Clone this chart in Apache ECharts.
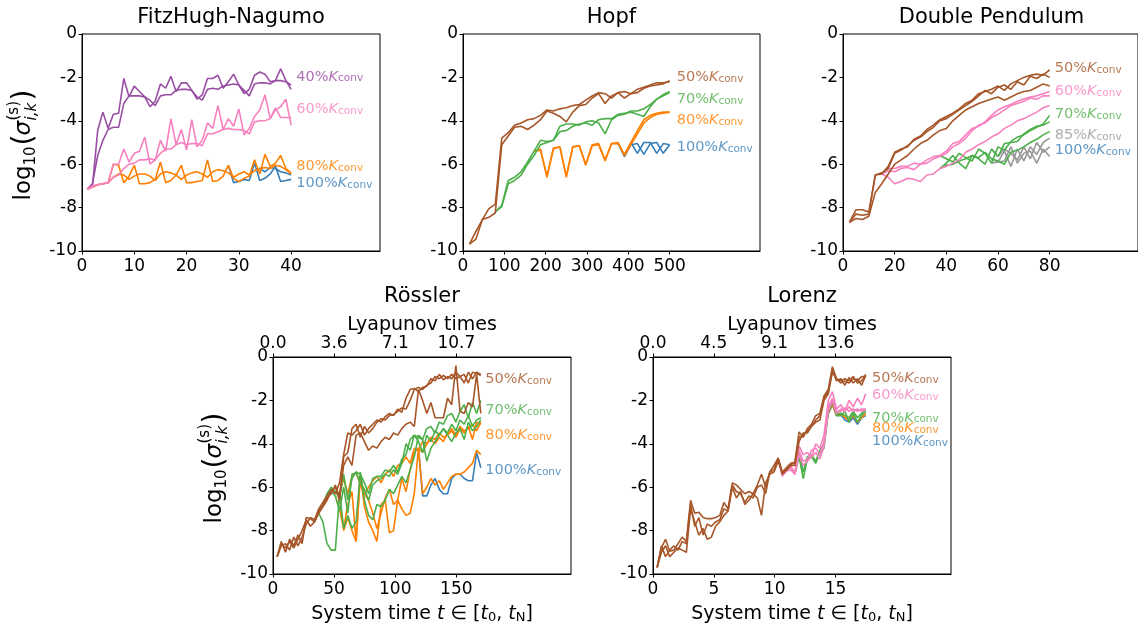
<!DOCTYPE html>
<html><head><meta charset="utf-8">
<script src="https://cdn.jsdelivr.net/npm/echarts@6.0.0/dist/echarts.min.js"></script>
<style>html,body{margin:0;padding:0;background:#fff}#c{width:1138px;height:626px}</style>
</head><body><div id="c"></div>
<script>
// ---------- colours ----------
const C = {brown:'#a65628', purple:'#984ea3', pink:'#f781bf', orange:'#ff7f00', green:'#4daf4a', blue:'#377eb8', grey:'#999999'};
const FONT = 'DejaVu Sans';

// ---------- FitzHugh-Nagumo ----------
const fhnT = [1,2,3,4,5,6,7,8,9,10,11,12,13,14,15,16,17,18,19,20,21,22,23,24,25,26,27,28,29,30,31,32,33,34,35,36,37,38,39,40];
const fhnPurple1 = [-7.15,-7.0,-4.45,-3.6,-4.35,-3.7,-3.65,-2.05,-2.9,-2.4,-2.65,-2.9,-3.35,-3.1,-2.3,-2.5,-1.95,-2.65,-2.25,-2.25,-2.6,-3.0,-2.8,-2.05,-2.05,-1.9,-2.5,-2.2,-1.85,-2.35,-2.75,-2.55,-1.9,-1.75,-1.85,-2.2,-2.15,-1.6,-2.15,-2.55];
const fhnPurple2 = [-7.15,-6.9,-5.6,-4.9,-4.4,-4.3,-4.3,-3.2,-2.85,-2.85,-2.85,-2.9,-3.05,-3.3,-2.85,-2.8,-2.8,-2.6,-2.55,-2.55,-2.6,-2.9,-3.05,-2.55,-2.5,-2.55,-2.4,-2.35,-2.3,-2.35,-2.6,-2.85,-2.3,-2.25,-2.25,-2.3,-2.15,-2.15,-2.2,-2.35];
const fhnPink1 = [-7.15,-7.05,-6.95,-6.9,-6.85,-6.0,-6.0,-5.3,-5.9,-5.5,-5.4,-4.75,-6.0,-5.8,-4.9,-5.4,-3.9,-5.1,-4.4,-5.35,-3.95,-5.2,-4.9,-4.1,-4.35,-3.3,-4.4,-3.9,-4.25,-3.45,-4.65,-4.35,-3.8,-3.5,-2.8,-3.9,-3.5,-3.35,-3.0,-4.2];
const fhnPink2 = [-7.15,-7.0,-6.95,-6.9,-6.85,-6.6,-6.5,-6.2,-6.0,-5.95,-5.8,-5.8,-5.75,-5.8,-5.5,-5.3,-5.3,-5.1,-5.0,-5.1,-5.05,-5.05,-5.15,-4.6,-4.6,-4.5,-4.4,-4.35,-4.4,-4.4,-4.45,-4.6,-4.05,-4.0,-4.0,-3.9,-3.4,-3.85,-3.85,-3.85];
const fhnOrange1 = [-7.15,-7.05,-6.95,-6.9,-6.85,-6.0,-6.05,-6.85,-6.55,-6.05,-6.9,-6.9,-6.85,-6.7,-5.9,-6.85,-6.75,-6.5,-6.05,-6.85,-6.85,-6.8,-6.75,-5.8,-6.8,-6.75,-6.55,-6.05,-6.65,-6.8,-6.65,-6.55,-5.8,-6.45,-5.55,-6.1,-5.95,-5.6,-6.2,-6.4];
const fhnOrange2 = [-7.15,-7.05,-6.95,-6.9,-6.85,-6.6,-6.45,-6.5,-6.7,-6.55,-6.45,-6.45,-6.55,-6.75,-6.45,-6.35,-6.4,-6.5,-6.7,-6.5,-6.4,-6.35,-6.45,-6.6,-6.35,-6.25,-6.3,-6.4,-6.6,-6.45,-6.35,-6.5,-6.3,-6.2,-6.15,-6.2,-6.05,-6.1,-6.25,-6.45];
const fhnBlue1 = [-6.05,-6.85,-6.8,-6.7,-6.75,-5.95,-6.75,-6.65,-6.45,-6.1,-6.8,-6.75,-6.7];      // from t=28
const fhnBlue2 = [-6.3,-6.2,-6.35,-6.15,-6.2,-6.35,-6.4,-6.5];                                   // from t=33
const fhnLabels = ['40%','60%','80%','100%'];
const fhnLabelY = [-1.97,-3.46,-6.08,-6.9];
const fhnLabelX = 41;

// ---------- Hopf ----------
const hopfT = [15.6,31.3,46.9,62.5,78.1,93.8,109.4,125,140.6,156.3,171.9,187.5,203.1,218.8,234.4,250,265.6,281.3,296.9,312.5,328.1,343.8,359.4,375,390.6,406.3,421.9,437.5,453.1,468.8,484.4,500];
const hopfBrown1 = [-9.68,-9.1,-8.55,-8.05,-7.85,-4.8,-4.55,-4.2,-4.1,-3.95,-3.9,-3.75,-3.5,-3.55,-3.45,-3.4,-3.3,-3.25,-3.05,-2.85,-2.7,-2.75,-2.95,-2.7,-2.65,-2.75,-2.55,-2.45,-2.35,-2.25,-2.25,-2.2];
const hopfBrown2 = [-9.68,-9.45,-8.55,-8.45,-8.25,-5.1,-4.7,-4.3,-4.25,-4.4,-4.2,-3.95,-3.55,-3.65,-3.8,-4.05,-3.6,-3.3,-3.25,-2.95,-2.75,-3.2,-2.85,-2.7,-2.95,-2.75,-2.7,-2.5,-2.4,-2.35,-2.3,-2.15];
const hopfGreen1 = [-8.2,-7.9,-6.75,-6.6,-6.35,-5.9,-5.4,-4.9,-4.95,-4.9,-4.25,-4.15,-4.15,-4.2,-4.05,-4.0,-4.1,-4.6,-3.95,-3.75,-3.7,-3.55,-3.55,-3.45,-3.25,-3.0,-2.8,-2.65];   // from index 4
const hopfGreen2 = [-8.2,-7.95,-6.9,-6.75,-6.5,-6.0,-5.6,-5.1,-5.0,-4.9,-4.5,-4.45,-4.25,-4.15,-4.1,-4.2,-3.95,-3.9,-3.9,-3.7,-3.65,-3.6,-3.7,-3.8,-3.35,-3.0,-2.85,-2.7];
const hopfOrange1 = [-5.4,-5.3,-6.6,-5.3,-5.2,-6.6,-5.2,-5.15,-6.05,-5.15,-5.1,-5.85,-5.05,-5.05,-5.55,-5.0,-4.45,-3.95,-3.75,-3.65,-3.6,-3.6];  // from index 10
const hopfOrange2 = [-5.4,-5.35,-6.55,-5.25,-5.2,-6.55,-5.2,-5.15,-6.0,-5.1,-5.05,-5.8,-5.05,-5.0,-5.6,-5.1,-4.6,-4.1,-3.85,-3.7,-3.65,-3.6];
const hopfBlue1 = [-5.05,-5.6,-5.0,-5.5,-5.0,-5.0,-5.5,-5.05,-5.1];   // from index 23
const hopfBlue2 = [-5.0,-5.65,-5.1,-5.05,-5.55,-5.05,-5.0,-5.5,-5.1];
const hopfLabels = ['50%','70%','80%','100%'];
const hopfLabelY = [-1.98,-3.0,-3.96,-5.24];
const hopfLabelX = 517;

// ---------- Double Pendulum ----------
const dpT = [2.5,5,7.5,10,12.5,15,17.5,20,22.5,25,27.5,30,32.5,35,37.5,40,42.5,45,47.5,50,52.5,55,57.5,60,62.5,65,67.5,70,72.5,75,77.5,80];
const dpBrown1 = [-8.68,-8.1,-8.1,-8.2,-6.5,-6.45,-6.1,-5.45,-5.3,-5.2,-4.85,-4.7,-4.4,-4.2,-3.95,-3.8,-3.65,-3.45,-3.2,-3.05,-2.75,-2.65,-2.55,-2.4,-2.6,-2.3,-2.15,-2.0,-1.9,-1.85,-1.9,-1.65];
const dpBrown2 = [-8.68,-8.3,-8.35,-8.3,-6.5,-6.4,-6.2,-5.5,-5.35,-5.15,-4.9,-4.75,-4.5,-4.3,-4.0,-3.9,-3.7,-3.5,-3.3,-3.1,-2.85,-2.6,-2.75,-2.45,-2.35,-2.55,-2.2,-2.35,-1.95,-2.05,-1.85,-2.0];
const dpBrown3 = [-8.68,-8.5,-8.55,-8.4,-7.3,-6.9,-6.45,-6.0,-5.8,-5.6,-5.3,-5.05,-4.9,-4.65,-4.45,-4.35,-4.0,-3.75,-3.5,-3.35,-3.2,-3.1,-3.0,-2.9,-3.05,-2.9,-2.75,-2.65,-2.6,-2.45,-2.3,-2.4];
const dpPink1 = [-6.45,-6.2,-6.2,-6.1,-6.1,-5.95,-6.0,-5.8,-5.65,-5.6,-5.4,-5.05,-4.95,-4.65,-4.35,-4.25,-4.05,-3.75,-3.5,-3.35,-3.25,-3.1,-3.0,-2.9,-2.85,-2.75,-2.65];   // from index 5
const dpPink2 = [-6.45,-6.3,-6.35,-6.2,-6.15,-6.25,-6.0,-5.95,-5.75,-5.65,-5.5,-5.2,-5.05,-4.8,-4.45,-4.2,-4.1,-3.85,-3.7,-3.5,-3.3,-3.2,-3.1,-2.95,-3.0,-2.85,-2.85];
const dpPink3 = [-6.45,-6.6,-6.9,-6.8,-6.65,-6.7,-6.8,-6.5,-6.45,-6.2,-6.1,-5.95,-5.8,-5.45,-5.3,-5.1,-4.95,-4.75,-4.6,-4.35,-4.2,-4.0,-3.9,-3.75,-3.6,-3.4,-3.3];
const dpGreen1 = [-5.6,-5.75,-5.9,-5.5,-5.7,-5.85,-5.3,-5.5,-5.95,-5.2,-5.35,-4.95,-4.75,-4.65,-4.45,-4.3,-4.15,-3.75];   // from index 14
const dpGreen2 = [-6.2,-5.95,-5.6,-5.95,-6.2,-5.6,-5.75,-6.0,-5.3,-5.65,-5.05,-5.0,-4.95,-4.6,-4.4,-4.25,-4.2,-4.05];
const dpGreen3 = [-6.2,-6.05,-6.0,-5.85,-5.75,-5.6,-5.7,-5.45,-5.75,-5.85,-6.0,-5.45,-5.35,-5.2,-5.0,-4.85,-4.65,-4.5];
const dpGrey1 = [-5.95,-5.9,-5.4,-6.1,-5.3,-5.85,-5.2,-5.55,-5.0,-4.8];   // from index 22
const dpGrey2 = [-5.3,-5.65,-5.3,-5.5,-5.8,-5.2,-5.75,-5.0,-5.45,-5.2];
const dpGrey3 = [-5.75,-5.9,-5.85,-5.2,-5.95,-5.5,-5.4,-5.95,-5.3,-5.65];
const dpLabels = ['50%','60%','70%','85%','100%'];
const dpLabelY = [-1.6,-2.63,-3.7,-4.65,-5.35];
const dpLabelX = 82;

// ---------- Rössler ----------
const rosT = [3.4,6.8,10.2,13.6,17,20.4,23.8,27.2,30.6,34,37.4,40.8,44.2,47.6,51,54.4,57.8,61.2,64.6,68,71.4,74.8,78.2,81.6,85,88.4,91.8,95.2,98.6,102,105.4,108.8,112.2,115.6,119,122.4,125.8,129.2,132.6,136,139.4,142.8,146.2,149.6,153,156.4,159.8,163.2,166.6,170];
const rosBrown1 = [-9.2,-8.5,-9.0,-8.4,-8.7,-8.2,-8.6,-7.4,-7.45,-7.6,-7.1,-6.8,-6.5,-6.3,-5.9,-6.6,-4.6,-4.4,-3.3,-3.1,-3.7,-3.2,-3.5,-3.3,-3.0,-2.85,-2.9,-2.7,-2.65,-2.5,-2.35,-2.4,-2.0,-1.5,-1.4,-1.5,-1.3,-1.2,-0.9,-1.0,-0.85,-1.0,-0.8,-1.0,-0.9,-0.8,-1.2,-0.7,-0.75,-0.85];
const rosBrown2 = [-9.2,-8.7,-8.6,-8.9,-8.3,-8.7,-8.3,-7.7,-7.4,-7.5,-7.0,-6.7,-6.4,-6.1,-6.3,-5.8,-4.5,-3.5,-3.6,-3.4,-3.1,-3.6,-3.3,-3.1,-2.9,-3.0,-2.75,-2.6,-2.7,-2.4,-2.55,-1.9,-1.5,-1.45,-1.6,-1.4,-1.35,-1.0,-1.1,-0.8,-1.05,-0.9,-1.0,-0.7,-0.9,-1.2,-0.7,-1.0,-0.7,-0.8];
const rosBrown3 = [-9.2,-8.6,-8.8,-8.5,-8.8,-8.4,-8.0,-7.5,-7.8,-7.6,-7.2,-6.9,-6.6,-6.2,-6.0,-6.4,-5.0,-4.6,-5.0,-3.6,-3.5,-3.9,-4.3,-4.1,-4.2,-3.9,-3.7,-3.8,-3.5,-3.6,-3.3,-3.1,-3.0,-3.2,-1.5,-2.0,-2.6,-2.1,-2.8,-2.8,-2.8,-1.9,-2.2,-0.4,-2.5,-2.6,-2.1,-2.3,-0.8,-2.6];
const rosGreen1 = [-6.8,-6.3,-6.0,-6.2,-6.5,-5.4,-6.6,-5.6,-5.3,-5.4,-5.8,-6.3,-5.6,-5.5,-5.5,-5.2,-5.3,-5.0,-5.3,-4.7,-4.5,-3.8,-3.6,-3.7,-3.8,-3.3,-3.2,-3.5,-3.0,-3.1,-2.7,-2.6,-3.0,-2.5,-2.2,-2.8,-2.1,-2.6,-2.0];   // from index 11
const rosGreen2 = [-6.8,-6.4,-6.2,-6.4,-7.1,-6.0,-7.2,-5.4,-5.35,-5.8,-6.1,-6.6,-5.9,-5.7,-5.6,-5.4,-5.5,-5.2,-5.4,-4.9,-4.0,-4.3,-3.6,-3.9,-4.4,-3.6,-3.9,-3.4,-3.6,-3.3,-3.5,-3.1,-3.4,-2.9,-3.1,-2.7,-3.2,-2.9,-2.8];
const rosGreen3 = [-7.2,-7.6,-8.6,-8.9,-8.9,-6.3,-7.9,-7.3,-7.9,-7.6,-5.3,-6.6,-7.3,-7.5,-6.8,-6.9,-6.6,-6.1,-6.3,-5.9,-5.5,-5.8,-5.2,-4.6,-3.6,-3.8,-4.8,-4.2,-3.9,-3.6,-3.3,-3.6,-3.9,-3.5,-3.3,-3.8,-3.0,-3.4,-3.2,-2.9];   // from index 10
const rosOrange1 = [-6.2,-6.3,-5.6,-6.3,-5.5,-5.3,-5.9,-6.3,-6.0,-5.7,-5.5,-5.8,-5.4,-5.2,-5.5,-5.0,-4.9,-4.6,-4.9,-4.2,-4.3,-3.9,-4.0,-3.7,-3.8,-3.5,-3.7,-3.6,-3.4,-3.7,-3.3,-3.5,-3.2,-3.8,-3.0,-3.1];   // from index 14
const rosOrange2 = [-6.4,-7.0,-7.9,-6.8,-6.2,-8.5,-5.5,-6.3,-6.6,-7.2,-7.9,-7.2,-6.5,-6.1,-6.8,-6.6,-5.6,-6.2,-5.2,-4.4,-4.2,-4.4,-4.0,-3.8,-4.0,-3.7,-3.9,-3.5,-3.3,-3.6,-3.2,-3.4,-3.3,-3.1,-3.4,-3.0];   // from index 14
const rosOrange3 = [-6.3,-8.0,-7.4,-8.0,-8.5,-5.4,-6.9,-7.6,-8.0,-8.5,-6.8,-6.6,-8.1,-8.0,-6.6,-7.0,-7.3,-7.2,-6.3,-4.2,-6.3,-6.0,-5.6,-5.9,-5.7,-6.1,-5.8,-5.5,-5.4,-5.4,-5.3,-5.1,-4.9,-4.3,-4.5];   // from index 15
const rosBlue = [-4.2,-6.4,-6.4,-5.9,-5.6,-6.1,-6.3,-6.3,-5.6,-5.4,-5.4,-5.6,-5.7,-5.7,-4.4,-5.1];   // from index 34
const rosLabels = ['50%','70%','80%','100%'];
const rosLabelY = [-1.01,-2.44,-3.6,-5.2];
const rosLabelX = 173.6;
const rosTopTicks = [0,50,100,150];
const rosTopLabels = ['0.0','3.6','7.1','10.7'];

// ---------- Lorenz ----------
const lorT = [0.34,0.69,1.03,1.37,1.72,2.06,2.40,2.74,3.09,3.43,3.77,4.12,4.46,4.80,5.15,5.49,5.83,6.17,6.52,6.86,7.20,7.55,7.89,8.23,8.58,8.92,9.26,9.60,9.95,10.29,10.63,10.98,11.32,11.66,12.01,12.35,12.69,13.03,13.38,13.72,14.06,14.41,14.75,15.09,15.44,15.78,16.12,16.46,16.81,17.15,17.49];
const lorBrown1 = [-9.7,-8.8,-8.4,-8.95,-8.9,-8.6,-8.3,-8.5,-6.6,-7.2,-7.15,-7.4,-7.45,-7.45,-7.4,-7.3,-6.7,-7.0,-5.8,-5.9,-6.1,-6.3,-6.2,-6.3,-5.9,-5.4,-6.0,-5.3,-5.0,-4.65,-5.3,-5.1,-4.9,-4.85,-3.45,-3.7,-3.3,-3.1,-2.7,-2.6,-1.8,-1.5,-0.45,-1.0,-1.1,-1.0,-1.1,-0.9,-1.2,-1.1,-0.8];
const lorBrown2 = [-9.7,-8.7,-9.2,-8.9,-8.7,-8.9,-8.5,-8.6,-6.8,-7.8,-7.4,-8.2,-7.7,-7.8,-7.6,-7.5,-7.0,-7.1,-5.9,-6.2,-6.3,-6.7,-6.4,-6.5,-6.0,-5.9,-6.3,-5.3,-5.2,-4.7,-5.4,-5.2,-4.95,-4.9,-3.7,-3.6,-3.4,-3.2,-2.9,-2.7,-1.9,-1.6,-0.6,-1.1,-1.0,-1.3,-0.95,-1.2,-1.0,-1.3,-0.85];
const lorBrown3 = [-9.7,-9.0,-8.7,-9.2,-9.0,-8.8,-8.9,-9.0,-7.0,-7.6,-8.2,-7.9,-8.4,-8.3,-7.8,-7.6,-7.3,-7.1,-6.0,-6.5,-6.2,-6.8,-6.6,-6.3,-6.5,-7.3,-5.8,-5.4,-5.3,-4.8,-5.3,-5.2,-5.0,-5.0,-3.9,-3.5,-3.5,-3.2,-3.0,-2.9,-2.0,-1.7,-0.7,-1.0,-1.2,-1.1,-1.2,-1.0,-1.1,-0.9,-0.9];
const lorPink1 = [-4.7,-5.35,-5.15,-5.0,-5.4,-4.1,-4.5,-4.4,-4.6,-4.0,-4.2,-3.6,-2.0,-1.6,-2.4,-2.2,-2.5,-2.0,-2.3,-1.9,-2.2,-1.7];   // from index 29
const lorPink2 = [-4.7,-5.4,-5.2,-5.1,-5.3,-4.3,-4.8,-4.7,-4.3,-4.2,-4.5,-3.9,-2.3,-1.9,-2.5,-2.5,-2.35,-2.5,-2.4,-2.5,-2.4,-2.4];
const lorPink3 = [-4.7,-5.5,-5.25,-5.2,-5.4,-4.5,-5.0,-4.8,-4.6,-4.4,-4.7,-4.1,-2.5,-2.0,-2.6,-2.4,-2.5,-2.3,-2.5,-2.4,-2.5,-2.45];
const lorGreen1 = [-5.4,-4.6,-5.6,-4.7,-4.6,-4.9,-4.4,-4.2,-2.5,-2.0,-2.7,-2.7,-2.5,-3.0,-2.6,-3.0,-2.7,-2.5];   // from index 33
const lorGreen2 = [-5.4,-4.4,-5.3,-4.6,-4.5,-4.8,-4.3,-4.0,-2.6,-2.1,-2.6,-2.6,-2.7,-2.8,-2.5,-2.8,-2.6,-2.4];
const lorOrange = [-2.6,-2.2,-2.7,-2.6,-2.8,-2.9,-2.7,-3.0,-2.8,-2.6];   // from index 41
const lorBlue = [-2.6,-2.2,-2.7,-2.65,-2.9,-3.0,-2.8,-3.1,-2.8,-2.7];
const lorLabels = ['50%','60%','70%','80%','100%'];
const lorLabelY = [-1.0,-1.75,-2.8,-3.3,-3.9];
const lorLabelX = 18.0;
const lorTopTicks = [0,5,10,15];
const lorTopLabels = ['0.0','4.5','9.1','13.6'];

// ---------- layout ----------
const grids = [
  {left:82, top:34, width:298, height:217},
  {left:463, top:34, width:297, height:217},
  {left:843, top:34, width:297, height:217},
  {left:273, top:357, width:298, height:217},
  {left:653, top:357, width:298, height:217}
];
const xMax = [57, 718.6, 114.2, 243.8, 24.5];
const xTicks = [[0,10,20,30,40],[0,100,200,300,400,500],[0,20,40,60,80],[0,50,100,150],[0,5,10,15]];

const axisLineStyle = {color:'#000', width:1};
const tickFont = {fontSize:17, color:'#000', fontFamily:FONT};

const xAxes = grids.map((g,i)=>({
  gridIndex:i, type:'value', min:0, max:xMax[i],
  axisLine:{show:true, onZero:false, lineStyle:axisLineStyle},
  axisTick:{show:true, length:3.5, customValues:xTicks[i], lineStyle:axisLineStyle},
  axisLabel:Object.assign({customValues:xTicks[i], margin:7}, tickFont),
  splitLine:{show:false},
  name: i>=3 ? '{a|System time }{i|t}{a| ∈ [}{i|t}{s|0}{a|, }{i|t}{s|N}{a|]}' : '',
  nameLocation:'middle', nameGap:31,
  nameTextStyle:{color:'#000', fontFamily:FONT, rich:{
    a:{fontSize:19, fontFamily:FONT, color:'#000'},
    i:{fontSize:19, fontFamily:FONT, fontStyle:'italic', color:'#000'},
    s:{fontSize:13, fontFamily:FONT, color:'#000', verticalAlign:'bottom', lineHeight:10}
  }}
}));
function topAxis(gi, ticks, labels) {
  return {gridIndex:gi, type:'value', position:'top', min:0, max:xMax[gi],
    axisLine:{show:true, onZero:false, lineStyle:axisLineStyle},
    axisTick:{show:true, length:3.5, customValues:ticks, lineStyle:axisLineStyle},
    axisLabel:Object.assign({customValues:ticks, margin:5, formatter:v=>labels[ticks.indexOf(v)]}, tickFont),
    splitLine:{show:false},
    name:'Lyapunov times', nameLocation:'middle', nameGap:22,
    nameTextStyle:{fontSize:19, fontFamily:FONT, color:'#000'}};
}
xAxes.push(topAxis(3, rosTopTicks, rosTopLabels));
xAxes.push(topAxis(4, lorTopTicks, lorTopLabels));

const yAxes = grids.map((g,i)=>({
  gridIndex:i, type:'value', min:-10, max:0, interval:2,
  axisLine:{show:true, onZero:false, lineStyle:axisLineStyle},
  axisTick:{show:true, length:3.5, lineStyle:axisLineStyle},
  axisLabel:Object.assign({margin:5}, tickFont),
  splitLine:{show:false}
}));

// ---------- series ----------
const series = [];
function line(gi, t, vals, start, color) {
  series.push({type:'line', xAxisIndex:gi, yAxisIndex:gi,
    data: vals.map((v,i)=>[t[start+i], v]),
    showSymbol:false, symbol:'none', silent:true, animation:false,
    lineStyle:{color, width:1.6}, itemStyle:{color}});
}
function labels(gi, x, ys, texts, colors) {
  series.push({type:'scatter', xAxisIndex:gi, yAxisIndex:gi, symbolSize:1, silent:true, animation:false, z:5,
    itemStyle:{color:'rgba(0,0,0,0)'},
    data: ys.map((y,i)=>({value:[x,y], label:{show:true, position:'inside', align:'left', verticalAlign:'middle',
      color:colors[i], formatter:'{n|'+texts[i]+'}{k|K}{s|conv}',
      rich:{
        n:{fontSize:14.5, fontFamily:FONT, color:colors[i]},
        k:{fontSize:14.5, fontFamily:FONT, fontStyle:'italic', color:colors[i]},
        s:{fontSize:10.5, fontFamily:FONT, color:colors[i], verticalAlign:'bottom', lineHeight:8}
      }}}))});
}

// FHN
line(0, fhnT, fhnBlue1, 27, C.blue);
line(0, fhnT, fhnBlue2, 32, C.blue);
line(0, fhnT, fhnOrange1, 0, C.orange);
line(0, fhnT, fhnOrange2, 0, C.orange);
line(0, fhnT, fhnPurple1, 0, C.purple);
line(0, fhnT, fhnPurple2, 0, C.purple);
line(0, fhnT, fhnPink1, 0, C.pink);
line(0, fhnT, fhnPink2, 0, C.pink);
labels(0, fhnLabelX, fhnLabelY, fhnLabels, [C.purple, C.pink, C.orange, C.blue]);

// Hopf
line(1, hopfT, hopfBlue1, 23, C.blue);
line(1, hopfT, hopfBlue2, 23, C.blue);
line(1, hopfT, hopfOrange1, 10, C.orange);
line(1, hopfT, hopfOrange2, 10, C.orange);
line(1, hopfT, hopfGreen1, 4, C.green);
line(1, hopfT, hopfGreen2, 4, C.green);
line(1, hopfT, hopfBrown1, 0, C.brown);
line(1, hopfT, hopfBrown2, 0, C.brown);
labels(1, hopfLabelX, hopfLabelY, hopfLabels, [C.brown, C.green, C.orange, C.blue]);

// Double pendulum
line(2, dpT, dpGrey1, 22, C.grey);
line(2, dpT, dpGrey2, 22, C.grey);
line(2, dpT, dpGrey3, 22, C.grey);
line(2, dpT, dpGreen1, 14, C.green);
line(2, dpT, dpGreen2, 14, C.green);
line(2, dpT, dpGreen3, 14, C.green);
line(2, dpT, dpPink1, 5, C.pink);
line(2, dpT, dpPink2, 5, C.pink);
line(2, dpT, dpPink3, 5, C.pink);
line(2, dpT, dpBrown1, 0, C.brown);
line(2, dpT, dpBrown2, 0, C.brown);
line(2, dpT, dpBrown3, 0, C.brown);
labels(2, dpLabelX, dpLabelY, dpLabels, [C.brown, C.pink, C.green, C.grey, C.blue]);

// Rössler
line(3, rosT, rosBlue, 34, C.blue);
line(3, rosT, rosOrange1, 14, C.orange);
line(3, rosT, rosOrange2, 14, C.orange);
line(3, rosT, rosOrange3, 15, C.orange);
line(3, rosT, rosGreen1, 11, C.green);
line(3, rosT, rosGreen2, 11, C.green);
line(3, rosT, rosGreen3, 10, C.green);
line(3, rosT, rosBrown1, 0, C.brown);
line(3, rosT, rosBrown2, 0, C.brown);
line(3, rosT, rosBrown3, 0, C.brown);
labels(3, rosLabelX, rosLabelY, rosLabels, [C.brown, C.green, C.orange, C.blue]);

// Lorenz
line(4, lorT, lorBlue, 41, C.blue);
line(4, lorT, lorOrange, 41, C.orange);
line(4, lorT, lorGreen1, 33, C.green);
line(4, lorT, lorGreen2, 33, C.green);
line(4, lorT, lorPink1, 29, C.pink);
line(4, lorT, lorPink2, 29, C.pink);
line(4, lorT, lorPink3, 29, C.pink);
line(4, lorT, lorBrown1, 0, C.brown);
line(4, lorT, lorBrown2, 0, C.brown);
line(4, lorT, lorBrown3, 0, C.brown);
labels(4, lorLabelX, lorLabelY, lorLabels, [C.brown, C.pink, C.green, C.orange, C.blue]);

// ---------- titles & y labels (text) ----------
const titles = [['FitzHugh-Nagumo',0],['Hopf',1],['Double Pendulum',2],['Rössler',3],['Lorenz',4]];
const graphics = titles.map(([t,i])=>({type:'text', x: grids[i].left + (i===2 ? 148.5 : grids[i].width/2), y: grids[i].top - (i>=3 ? 60 : 16),
  style:{text:t, fontSize:21, fontFamily:FONT, fill:'#000', align:'center', verticalAlign:'middle', textAlign:'center', textVerticalAlign:'middle'}}));
function yLabel(gi) {
  const g = grids[gi];
  const parts = [
    {t:'log', x:0, y:0, fs:23},
    {t:'10', x:35, y:7, fs:15},
    {t:'(', x:55, y:1, fs:28},
    {t:'σ', x:65, y:0, fs:23, it:true},
    {t:'(s)', x:80, y:-10, fs:15},
    {t:'i,k', x:80, y:8, fs:15, it:true},
    {t:')', x:100, y:1, fs:28}
  ];
  return {type:'group', x:g.left-58, y:g.top+g.height/2+2, rotation:Math.PI/2,
    children: parts.map(p=>({type:'text', x:p.x-56, y:p.y,
      style:{text:p.t, fontSize:p.fs, fontFamily:FONT, fontStyle:p.it?'italic':'normal', fill:'#000',
        align:'left', verticalAlign:'middle', textAlign:'left', textVerticalAlign:'middle'}}))};
}
graphics.push(yLabel(0));
graphics.push(yLabel(3));

const chart = echarts.init(document.getElementById('c'), null, {renderer:'canvas'});
chart.setOption({
  animation:false,
  backgroundColor:'#fff',
  grid: grids.map(g=>Object.assign({show:true, borderColor:'#000', borderWidth:1, backgroundColor:'transparent', containLabel:false}, g)),
  xAxis: xAxes,
  yAxis: yAxes,
  series,
  graphic: graphics
});
</script></body></html>
